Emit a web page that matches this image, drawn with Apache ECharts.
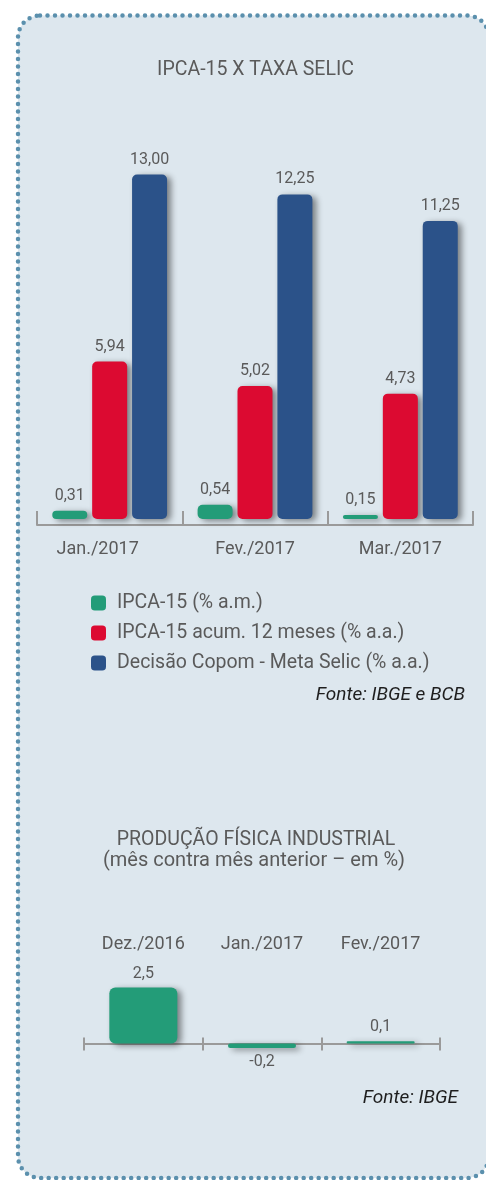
<!DOCTYPE html>
<html>
<head>
<meta charset="utf-8">
<script src="https://cdn.jsdelivr.net/npm/echarts@6/dist/echarts.min.js"></script>
<style>
html,body{margin:0;padding:0;background:#ffffff;}
#chart{width:486px;height:1180px;}
</style>
</head>
<body>
<div id="chart"></div>
<script>
// ---- data ----
const months1 = ['Jan./2017', 'Fev./2017', 'Mar./2017'];
const seriesNames = ['IPCA-15 (% a.m.)', 'IPCA-15 acum. 12 meses (% a.a.)', 'Decisão Copom - Meta Selic (% a.a.)'];
const ipca15 = [0.31, 0.54, 0.15];
const ipca15Acum = [5.94, 5.02, 4.73];
const selic = [13.00, 12.25, 11.25];
const months2 = ['Dez./2016', 'Jan./2017', 'Fev./2017'];
const producao = [2.5, -0.2, 0.1];

const FONT = 'Roboto';
const GRAY = '#5a5a5a';
const GREEN = '#239c78', RED = '#dc0a31', BLUE = '#2b5289';
const AXIS = '#9a9a9a';
const shadow = {shadowBlur: 6, shadowColor: 'rgba(0,0,0,0.45)', shadowOffsetX: 4, shadowOffsetY: 2};

function barSeries1(name, data, color) {
  return {
    type: 'bar', name: name, data: data, xAxisIndex: 0, yAxisIndex: 0,
    barWidth: 35, barGap: '14%',
    itemStyle: Object.assign({color: color, borderRadius: 5}, shadow),
    label: {show: true, position: 'top', distance: 7, color: GRAY, fontFamily: FONT, fontSize: 16,
      formatter: p => p.value.toFixed(2).replace('.', ',')}
  };
}

// chart 2 layout: zero line 11.2px above grid bottom
const g2Top = 976.3, g2Height = 78.4, zeroOffset = -11.2;

const chart = echarts.init(document.getElementById('chart'));
chart.setOption({
  animation: false,
  graphic: [
    {type: 'rect', z: -10, silent: true,
     shape: {x: 18, y: 15.5, width: 471, height: 1162.5, r: 22},
     style: {fill: '#dde7ee', stroke: '#5b90ad', lineWidth: 4.5, lineDash: [0, 7.5], lineCap: 'round'}},
    {type: 'text', x: 255.5, y: 70.5, style: {text: 'IPCA-15 X TAXA SELIC', fill: GRAY, font: '19.5px ' + FONT, align: 'center', verticalAlign: 'middle'}},
    {type: 'text', x: 465, y: 695, style: {text: 'Fonte: IBGE e BCB', fill: '#1e1e1e', font: 'italic 19px ' + FONT, align: 'right', verticalAlign: 'middle'}},
    {type: 'text', x: 256, y: 840, style: {text: 'PRODUÇÃO FÍSICA INDUSTRIAL', fill: GRAY, font: '19.5px ' + FONT, align: 'center', verticalAlign: 'middle'}},
    {type: 'text', x: 254, y: 861, style: {text: '(mês contra mês anterior – em %)', fill: GRAY, font: '20px ' + FONT, align: 'center', verticalAlign: 'middle'}},
    {type: 'text', x: 458, y: 1098, style: {text: 'Fonte: IBGE', fill: '#1e1e1e', font: 'italic 19px ' + FONT, align: 'right', verticalAlign: 'middle'}}
  ],
  legend: {
    data: seriesNames, orient: 'vertical', left: 86, top: 588,
    itemWidth: 15, itemHeight: 15, itemGap: 10, icon: 'roundRect',
    textStyle: {color: GRAY, fontFamily: FONT, fontSize: 19.5, lineHeight: 18, padding: [0, 0, 0, 6]}
  },
  grid: [
    {left: 37, width: 436, top: 148, height: 371},
    {left: 84, width: 356, top: g2Top, height: g2Height}
  ],
  xAxis: [
    {type: 'category', gridIndex: 0, data: months1, position: 'bottom', offset: 6,
     axisLine: {onZero: false, lineStyle: {color: AXIS, width: 2}},
     axisTick: {show: true, inside: true, length: 14, lineStyle: {color: AXIS, width: 2}},
     axisLabel: {margin: 15, color: GRAY, fontFamily: FONT, fontSize: 18,
       formatter: (v, i) => i === 0 ? '{s|' + v + '}' : v,
       rich: {s: {color: GRAY, fontFamily: FONT, fontSize: 18, padding: [0, 24, 0, 0]}}}},
    {type: 'category', gridIndex: 1, data: months2, position: 'bottom', offset: zeroOffset,
     axisLine: {onZero: false, lineStyle: {color: AXIS, width: 2}},
     axisTick: {show: true, inside: true, length: 6, lineStyle: {color: AXIS, width: 2}},
     axisLabel: {show: false}},
    {type: 'category', gridIndex: 1, data: months2, position: 'bottom', offset: zeroOffset,
     axisLine: {onZero: false, lineStyle: {color: AXIS, width: 2}},
     axisTick: {show: true, inside: false, length: 7, lineStyle: {color: AXIS, width: 2}},
     axisLabel: {show: false}},
    {type: 'category', gridIndex: 1, data: months2, position: 'top',
     axisLine: {show: false, onZero: false}, axisTick: {show: false},
     axisLabel: {margin: 23, color: GRAY, fontFamily: FONT, fontSize: 18}}
  ],
  yAxis: [
    {type: 'value', gridIndex: 0, min: 0, max: 14, show: false},
    {type: 'value', gridIndex: 1, min: -0.5, max: 3, show: false}
  ],
  series: [
    barSeries1(seriesNames[0], ipca15, GREEN),
    barSeries1(seriesNames[1], ipca15Acum, RED),
    barSeries1(seriesNames[2], selic, BLUE),
    {type: 'bar', name: 'Produção física industrial', xAxisIndex: 1, yAxisIndex: 1, barWidth: 68,
     data: producao.map(v => ({value: v, label: {position: v < 0 ? 'bottom' : 'top'}})),
     itemStyle: Object.assign({color: GREEN, borderRadius: 6}, shadow),
     label: {show: true, distance: 6, color: GRAY, fontFamily: FONT, fontSize: 16,
       formatter: p => p.value.toFixed(1).replace('.', ',')}}
  ]
});
</script>
</body>
</html>
